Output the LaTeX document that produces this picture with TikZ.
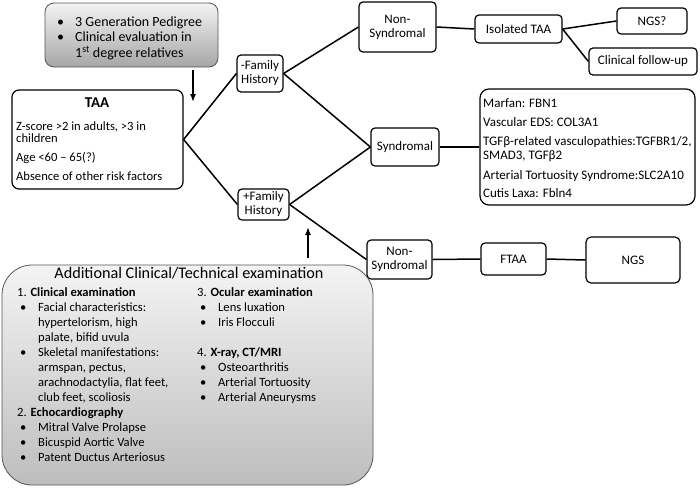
\documentclass[tikz,border=0pt]{standalone}
\usepackage{fontspec}
\setmainfont{Carlito}
\usetikzlibrary{arrows.meta,calc}
\definecolor{gtop}{HTML}{F4F4F4}
\definecolor{gbot1}{HTML}{A6A6A6}
\definecolor{gbot2}{HTML}{BDBDBD}
\definecolor{gframe}{HTML}{555555}
\begin{document}
\begin{tikzpicture}[x=1pt,y=-1pt,
  box/.style={draw, line width=1.2pt, rounded corners=4pt, inner sep=0pt, align=center,
              font=\fontsize{13}{14}\selectfont},
  graybox/.style={draw=gframe, line width=0.8pt, inner sep=0pt},
  link/.style={line width=1.5pt},
  arr/.style={line width=1.5pt, -{Latex[length=8pt,width=6pt]}},
  txt/.style={inner sep=0pt, align=left, anchor=north west},
  bul/.style={}
]
\useasboundingbox (0,0) rectangle (700,488);
\newcommand{\bl}{\makebox[21pt][l]{\hspace{3pt}•}}
\newcommand{\ind}{\makebox[21pt]{}}

% top gray box
\node[graybox, rounded corners=9pt, minimum width=173pt, minimum height=64pt,
      top color=gtop, bottom color=gbot1] (top) at (131.5,35) {};
\node[txt, font=\fontsize{14}{15.5}\selectfont] (toptxt) at (54,16.5)
  {\bl 3 Generation Pedigree\\ \bl Clinical evaluation in\\ \ind 1\textsuperscript{st} degree relatives};

% TAA box
\node[box, rounded corners=7pt, minimum width=171pt, minimum height=99pt] (taa) at (97.5,139.5) {};
\node[inner sep=0pt, font=\fontsize{15}{16}\selectfont\bfseries] (taat) at (97,103) {TAA};
\node[txt, font=\fontsize{12.6}{12}\selectfont] (taab) at (16,122)
  {Z-score >2 in adults, >3 in\\ children\\[7pt] Age <60 -- 65(?)\\[7pt] Absence of other risk factors};

% family history boxes
\node[box, minimum width=46pt, minimum height=37pt] (fhm) at (260,73.5) {-Family\\History};
\node[box, minimum width=51pt, minimum height=31pt] (fhp) at (263.5,204.5) {+Family\\History};

% middle column
\node[box, minimum width=77pt, minimum height=50pt] (ns1) at (397.5,27) {Non-\\Syndromal};
\node[box, minimum width=68pt, minimum height=38pt] (syn) at (405,147) {Syndromal};
\node[box, minimum width=65pt, minimum height=39pt] (ns2) at (399.5,259.5) {Non-\\Syndromal};

% right column
\node[box, minimum width=87pt, minimum height=28pt] (iso) at (518.5,29) {Isolated TAA};
\node[box, minimum width=70pt, minimum height=26pt] (ngsq) at (652,21) {NGS?};
\node[box, minimum width=108pt, minimum height=27pt] (cfu) at (643,61.5) {Clinical follow-up};
\node[box, rounded corners=9pt, minimum width=215pt, minimum height=116pt] (info) at (587.5,147) {};
\node[txt, font=\fontsize{13}{14}\selectfont] (infot) at (483,98.5)
  {Marfan: FBN1\\[5pt] Vascular EDS: COL3A1\\[5pt] TGFβ-related vasculopathies:TGFBR1/2,\\ SMAD3, TGFβ2\\[6pt]
   Arterial Tortuosity Syndrome:SLC2A10\\[4pt] Cutis Laxa: Fbln4};
\node[box, minimum width=65pt, minimum height=32pt] (ftaa) at (513.5,259) {FTAA};
\node[box, rounded corners=5pt, minimum width=94pt, minimum height=46pt] (ngs) at (633,260) {NGS};

% bottom gray box
\node[graybox, rounded corners=30pt, minimum width=371pt, minimum height=220pt,
      top color=gtop, bottom color=gbot2] (bot) at (187.5,375) {};
\node[inner sep=0pt, font=\fontsize{16.2}{18}\selectfont] (bott) at (189,273) {Additional Clinical/Technical examination};
\node[txt, font=\fontsize{12.6}{15}\selectfont] (botl) at (17,287.5)
  {1. \textbf{Clinical examination}\\
   \bl Facial characteristics:\\
   \ind hypertelorism, high\\
   \ind palate, bifid uvula\\
   \bl Skeletal manifestations:\\
   \ind armspan, pectus,\\
   \ind arachnodactylia, flat feet,\\
   \ind club feet, scoliosis\\
   2. \textbf{Echocardiography}\\
   \bl Mitral Valve Prolapse\\
   \bl Bicuspid Aortic Valve\\
   \bl Patent Ductus Arteriosus};
\node[txt, font=\fontsize{12.6}{15}\selectfont] (botr) at (197,287.5)
  {3. \textbf{Ocular examination}\\
   \bl Lens luxation\\
   \bl Iris Flocculi\\
   \mbox{}\\
   4. \textbf{X-ray, CT/MRI}\\
   \bl Osteoarthritis\\
   \bl Arterial Tortuosity\\
   \bl Arterial Aneurysms};

% connectors
\draw[link] (taa.east) -- (fhm.west);
\draw[link] (taa.east) -- (fhp.west);
\draw[link] (fhm.east) -- (ns1.west);
\draw[link] (fhm.east) -- (syn.west);
\draw[link] (fhp.east) -- (syn.west);
\draw[link] (fhp.east) -- (ns2.west);
\draw[link] (ns1.east) -- (iso.west);
\draw[link] (iso.east) -- (ngsq.west);
\draw[link] (iso.east) -- (cfu.west);
\draw[link] (syn.east) -- (info.west);
\draw[link] (ns2.east) -- (ftaa.west);
\draw[link] (ftaa.east) -- (ngs.west);

% arrows
\coordinate (a1s) at (193,70);
\coordinate (a1e) at (193,102);
\coordinate (a2s) at (308,258);
\coordinate (a2e) at (308,227);
\draw[arr] (a1s) -- (a1e);
\draw[arr] (a2s) -- (a2e);
\end{tikzpicture}
\end{document}
